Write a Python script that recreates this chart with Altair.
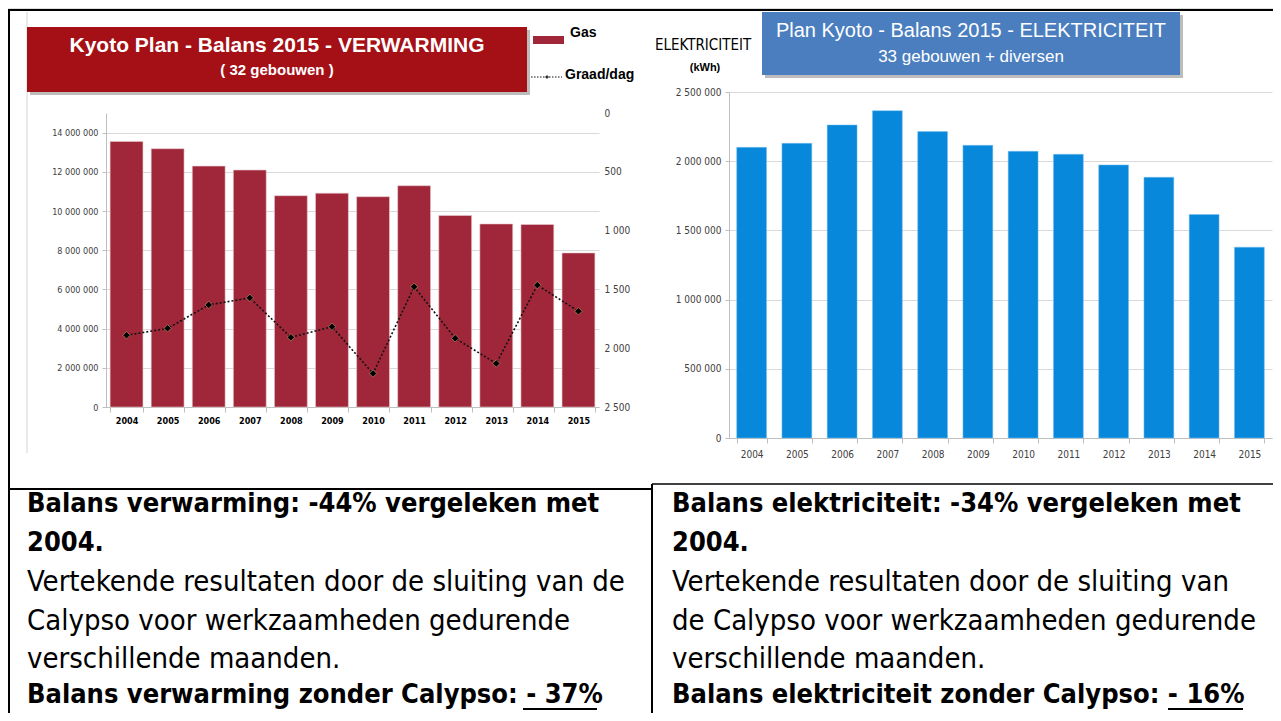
import altair as alt
import pandas as pd

# ---------------- data ----------------
years = ["2004", "2005", "2006", "2007", "2008", "2009", "2010", "2011", "2012", "2013", "2014", "2015"]
gas_kwh = [13550000, 13180000, 12290000, 12090000, 10780000, 10910000, 10730000, 11290000,
           9770000, 9340000, 9310000, 7860000]
graad_dag = [1890, 1831, 1632, 1572, 1908, 1817, 2215, 1478, 1916, 2130, 1464, 1686]
elek_kwh = [2100000, 2129000, 2262000, 2365000, 2214000, 2115000, 2072000, 2050000,
            1973000, 1884000, 1615000, 1379000]

gas_ticks = [0, 2000000, 4000000, 6000000, 8000000, 10000000, 12000000, 14000000]
gd_ticks = [0, 500, 1000, 1500, 2000, 2500]
elek_ticks = [0, 500000, 1000000, 1500000, 2000000, 2500000]

left_title = "Kyoto Plan - Balans 2015 - VERWARMING"
left_sub = "( 32 gebouwen )"
right_title = "Plan Kyoto - Balans 2015 - ELEKTRICITEIT"
right_sub = "33 gebouwen + diversen"

NB = "\u00a0"
left_lines = [
    ("Balans verwarming: -44% vergeleken met", "bold"),
    ("2004.", "bold"),
    (NB + "Vertekende resultaten door de sluiting van de", "normal"),
    ("Calypso voor werkzaamheden gedurende", "normal"),
    ("verschillende maanden.", "normal"),
    ("Balans verwarming zonder Calypso: - 37%", "bold"),
]
right_lines = [
    ("Balans elektriciteit: -34% vergeleken met", "bold"),
    ("2004.", "bold"),
    (NB + "Vertekende resultaten door de sluiting van", "normal"),
    ("de" + NB + "Calypso voor werkzaamheden gedurende", "normal"),
    ("verschillende maanden.", "normal"),
    ("Balans elektriciteit zonder Calypso: - 16%", "bold"),
]

W, H = 1265, 705
NARROW = "Liberation Sans Narrow, DejaVu Sans Condensed, Arial Narrow, sans-serif"
ARIAL = "Liberation Sans, Arial, sans-serif"
BODY = "DejaVu Sans Condensed, DejaVu Sans, sans-serif"

RED = "#a0263a"
BLUE = "#0788db"
GRID = "#d9d9d9"
AXC = "#bfbfbf"

df_gas = pd.DataFrame({"jaar": years, "gas": gas_kwh, "graaddag": graad_dag})
df_el = pd.DataFrame({"jaar": years, "elek": elek_kwh})
one = pd.DataFrame({"d": [0]})

# ---------------- left chart ----------------
LX0, LX1, LYB, LYT = 98, 591, 399, 105


def xs_left():
    return alt.Scale(type="band", domain=years, range=[LX0, LX1], paddingInner=0.2, paddingOuter=0.1)


gas_bars = alt.Chart(df_gas).mark_bar(color=RED, stroke="#e9c9ce", strokeWidth=0.6).encode(
    x=alt.X("jaar:N", scale=xs_left(), title=None,
            axis=alt.Axis(orient="bottom", offset=-(H - LYB), labelAngle=0, labelFontWeight="bold",
                          labelFontSize=9, labelColor="#000000", labelFont=NARROW, domainColor=AXC,
                          tickColor=AXC, tickBand="extent", tickSize=5, labelPadding=4)),
    y=alt.Y("gas:Q", title=None,
            scale=alt.Scale(domain=[0, 15000000], range=[LYB, LYT], nice=False, zero=True),
            axis=alt.Axis(orient="left", offset=-LX0, values=gas_ticks, grid=True, gridColor=GRID,
                          labelFont=NARROW, labelFontSize=9, labelColor="#404040", domainColor=AXC,
                          tickColor=AXC, tickSize=4, labelPadding=4)),
)

gd_y_axis = alt.Axis(orient="right", offset=-(W - LX1), values=gd_ticks, grid=False, domain=False,
                     ticks=False, labelFont=NARROW, labelFontSize=10, labelColor="#404040",
                     labelPadding=5)
gd_scale = alt.Scale(domain=[0, 2500], range=[LYT, LYB], nice=False, zero=False)

gd_line = alt.Chart(df_gas).mark_line(color="#111111", strokeDash=[2, 2], strokeWidth=1.6).encode(
    x=alt.X("jaar:N", bandPosition=0.5, scale=xs_left(), axis=None),
    y=alt.Y("graaddag:Q", title=None, scale=gd_scale, axis=gd_y_axis),
)
gd_pts = alt.Chart(df_gas).mark_point(shape="diamond", filled=True, color="#000000", size=55,
                                      stroke="#c9a66b", strokeWidth=0.6, opacity=1).encode(
    x=alt.X("jaar:N", bandPosition=0.5, scale=xs_left(), axis=None),
    y=alt.Y("graaddag:Q", scale=alt.Scale(domain=[0, 2500], range=[LYT, LYB], nice=False, zero=False),
            axis=None),
)

# ---------------- right chart ----------------
RX0, RX1, RYB, RYT = 721, 1264, 430, 84

el_bars = alt.Chart(df_el).mark_bar(color=BLUE, stroke="#7fc1ee", strokeWidth=0.5).encode(
    x=alt.X("jaar:N", title=None,
            scale=alt.Scale(type="band", domain=years, range=[RX0, RX1], paddingInner=0.34, paddingOuter=0.17),
            axis=alt.Axis(orient="bottom", offset=-(H - RYB), labelAngle=0, labelFontSize=10,
                          labelColor="#404040", labelFont=NARROW, domainColor=AXC, tickColor=AXC,
                          tickBand="extent", tickSize=5, labelPadding=6)),
    y=alt.Y("elek:Q", title=None,
            scale=alt.Scale(domain=[0, 2500000], range=[RYB, RYT], nice=False, zero=True),
            axis=alt.Axis(orient="left", offset=-RX0, values=elek_ticks, grid=True, gridColor=GRID,
                          labelFont=NARROW, labelFontSize=10, labelColor="#404040", domainColor=AXC,
                          tickColor=AXC, tickSize=4, labelPadding=4)),
)


# ---------------- decoration helpers ----------------
def rule(x, y, x2=None, y2=None, color="#000000", w=1.0, dash=None):
    enc = {"x": alt.value(x), "y": alt.value(y)}
    if x2 is not None:
        enc["x2"] = alt.value(x2)
    if y2 is not None:
        enc["y2"] = alt.value(y2)
    kw = dict(color=color, strokeWidth=w)
    if dash:
        kw["strokeDash"] = dash
    return alt.Chart(one).mark_rule(**kw).encode(**enc)


def box(x, y, x2, y2, fill, opacity=1.0):
    return alt.Chart(one).mark_rect(color=fill, opacity=opacity).encode(
        x=alt.value(x), x2=alt.value(x2), y=alt.value(y), y2=alt.value(y2))


def txt(s, x, y, size, weight="normal", color="#000000", font=ARIAL, align="left"):
    return alt.Chart(one).mark_text(text=s, fontSize=size, fontWeight=weight, color=color, font=font,
                                    align=align, baseline="middle").encode(x=alt.value(x), y=alt.value(y))


deco = []
# frames / table borders
deco.append(rule(19, 4, y2=445, color="#d4d4d4", w=1))
deco.append(rule(0, 2, x2=W, color="#000000", w=2))
deco.append(rule(1, 2, y2=H, color="#000000", w=2))
deco.append(rule(0, 481, x2=644, color="#000000", w=2))
deco.append(rule(644, 476, y2=H, color="#000000", w=2))
deco.append(rule(644, 476, x2=W, color="#000000", w=1.5))

# left title box
deco.append(box(22, 22, 522, 87, "#7a7a7a", 0.5))
deco.append(box(19, 19, 519, 84, "#a50f16"))
deco.append(txt(left_title, 269, 38, 21, "bold", "#ffffff", ARIAL, "center"))
deco.append(txt(left_sub, 269, 62, 15, "bold", "#ffffff", ARIAL, "center"))

# left legend
deco.append(box(525, 28, 556, 36, RED))
deco.append(txt("Gas", 562, 25, 14, "bold"))
deco.append(rule(523, 69, x2=554, color="#111111", w=1.2, dash=[1.5, 1.5]))
deco.append(alt.Chart(one).mark_point(shape="diamond", filled=True, color="#000000", size=18).encode(
    x=alt.value(539), y=alt.value(69)))
deco.append(txt("Graad/dag", 557, 67, 14, "bold"))

# right title box + axis title
deco.append(box(757, 7, 1175, 70, "#7a7a7a", 0.5))
deco.append(box(754, 4, 1172, 67, "#4a7ebf"))
deco.append(txt(right_title, 963, 23, 20, "normal", "#ffffff", ARIAL, "center"))
deco.append(txt(right_sub, 963, 49, 17, "normal", "#ffffff", ARIAL, "center"))
deco.append(txt("ELEKTRICITEIT", 647, 37, 15, "normal", "#000000", NARROW))
deco.append(txt("(kWh)", 697, 60, 11, "bold", "#000000", ARIAL, "center"))

# lower text cells
line_y = [496, 535, 574, 613, 651, 687]
for (s, wgt), yy in zip(left_lines, line_y):
    deco.append(txt(s, 19, yy, 27 if wgt == "bold" else 29, wgt, "#000000", BODY))
for (s, wgt), yy in zip(right_lines, line_y):
    deco.append(txt(s, 664, yy, 27 if wgt == "bold" else 29, wgt, "#000000", BODY))
deco.append(rule(515, 701, x2=589, color="#000000", w=2))
deco.append(rule(1160, 701, x2=1235, color="#000000", w=2))

chart = alt.layer(gas_bars, gd_line, gd_pts, el_bars, *deco).resolve_scale(
    x="independent", y="independent"
).resolve_axis(x="independent", y="independent").properties(
    width=W, height=H, padding=0, autosize=alt.AutoSizeParams(type="none"), background="#ffffff"
).configure_view(strokeWidth=0).configure(
    locale=alt.Locale(number=alt.NumberLocale(decimal=",", thousands=" ", grouping=[3], currency=["", " €"]))
)

chart.save("out.html", embed_options={"renderer": "svg", "actions": False})
